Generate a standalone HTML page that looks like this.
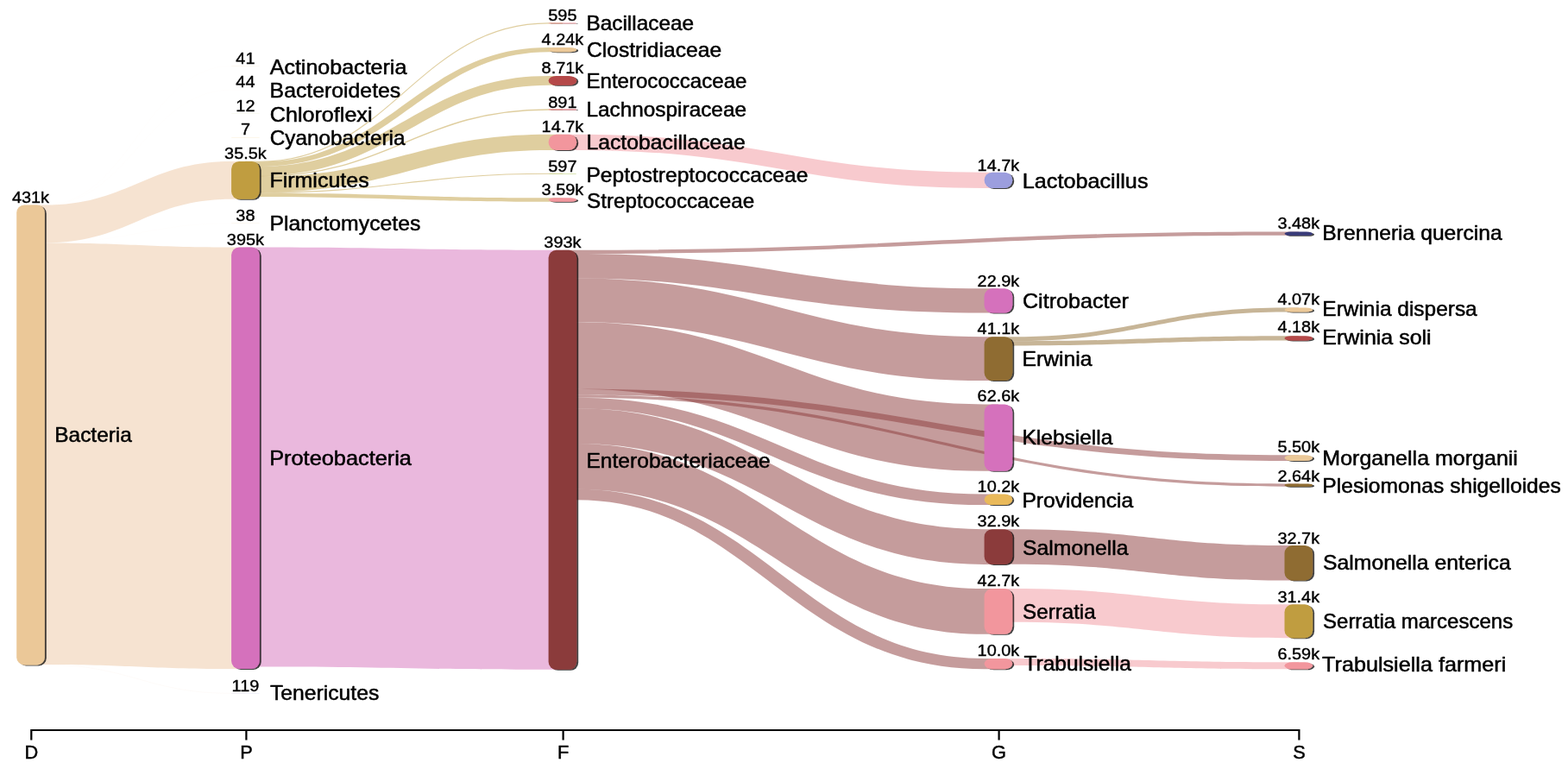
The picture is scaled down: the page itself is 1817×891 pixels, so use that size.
<!DOCTYPE html>
<html lang="en">
<head>
<meta charset="utf-8">
<title>Sankey</title>
<style>
html,body{margin:0;padding:0;background:#fff;}
body{width:1817px;height:891px;overflow:hidden;}
svg{display:block;}
.nm{font-family:"Liberation Sans",Arial,Helvetica,sans-serif;font-size:23.6px;fill:#000;stroke:#000;stroke-width:0.5px;stroke-linejoin:round;}
.vl{font-family:"Liberation Sans",Arial,Helvetica,sans-serif;font-size:19.1px;fill:#000;stroke:#000;stroke-width:0.4px;stroke-linejoin:round;text-anchor:middle;}
.ax{font-family:"Liberation Sans",Arial,Helvetica,sans-serif;font-size:21.8px;fill:#000;stroke:#000;stroke-width:0.45px;text-anchor:middle;}
.lk{fill:none;stroke-linecap:butt;}
</style>
</head>
<body>
<svg width="1817" height="891" viewBox="0 0 1817 891">
<defs>
<filter id="sh" x="-20%" y="-20%" width="150%" height="150%" filterUnits="objectBoundingBox">
<feGaussianBlur in="SourceAlpha" stdDeviation="0.55" result="b"/>
<feOffset in="b" dx="1.5" dy="1.0" result="o"/>
<feComponentTransfer in="o" result="s"><feFuncA type="linear" slope="0.74"/></feComponentTransfer>
<feMerge><feMergeNode in="s"/><feMergeNode in="SourceGraphic"/></feMerge>
</filter>
</defs>
<rect x="0" y="0" width="1817" height="891" fill="#ffffff"/>

<g class="links">
<path class="lk" d="M35.5,237.43 H51.8 C149.13,237.43 170.77,76.6 268.1,76.6 H284.4" stroke="#edc7a3" stroke-opacity="0.5" stroke-width="0.051"/>
<path class="lk" d="M35.5,237.48 H51.8 C149.13,237.48 170.77,104.2 268.1,104.2 H284.4" stroke="#edc7a3" stroke-opacity="0.5" stroke-width="0.054"/>
<path class="lk" d="M35.5,237.51 H51.8 C149.13,237.51 170.77,131.9 268.1,131.9 H284.4" stroke="#edc7a3" stroke-opacity="0.5" stroke-width="0.015"/>
<path class="lk" d="M35.5,237.52 H51.8 C149.13,237.52 170.77,159.6 268.1,159.6 H284.4" stroke="#edc7a3" stroke-opacity="0.5" stroke-width="0.009"/>
<path d="M35.5,237.53 H51.8 C149.13,237.53 170.77,186.9 268.1,186.9 H284.4 V230.8 H268.1 C170.77,230.8 149.13,281.43 51.8,281.43 H35.5 Z" fill="#edc7a3" fill-opacity="0.5"/>
<path class="lk" d="M35.5,281.45 H51.8 C149.13,281.45 170.77,258.9 268.1,258.9 H284.4" stroke="#edc7a3" stroke-opacity="0.5" stroke-width="0.047"/>
<path d="M35.5,281.48 H51.8 C149.13,281.48 170.77,286.5 268.1,286.5 H284.4 V775 H268.1 C170.77,775 149.13,769.97 51.8,769.97 H35.5 Z" fill="#edc7a3" fill-opacity="0.5"/>
<path class="lk" d="M35.5,770.05 H51.8 C149.13,770.05 170.77,803.4 268.1,803.4 H284.4" stroke="#edc7a3" stroke-opacity="0.5" stroke-width="0.147"/>
<path class="lk" d="M284.4,187.27 H300.7 C451.41,187.27 484.9,26.9 635.6,26.9 H651.9" stroke="#c09d40" stroke-opacity="0.5" stroke-width="1.086"/>
<path d="M284.4,187.64 H300.7 C451.41,187.64 484.9,55.1 635.6,55.1 H651.9 V60.34 H635.6 C491.9,60.34 458.41,192.88 300.7,192.88 H284.4 Z" fill="#c09d40" fill-opacity="0.5"/>
<path d="M284.4,192.88 H300.7 C451.41,192.88 484.9,88 635.6,88 H651.9 V98.77 H635.6 C489.9,98.77 456.41,203.65 300.7,203.65 H284.4 Z" fill="#c09d40" fill-opacity="0.5"/>
<path class="lk" d="M284.4,204.2 H300.7 C451.41,204.2 484.9,126.9 635.6,126.9 H651.9" stroke="#c09d40" stroke-opacity="0.5" stroke-width="1.452"/>
<path d="M284.4,204.75 H300.7 C451.41,204.75 484.9,155.7 635.6,155.7 H651.9 V173.88 H635.6 C490.9,173.88 457.41,222.93 300.7,222.93 H284.4 Z" fill="#c09d40" fill-opacity="0.5"/>
<path class="lk" d="M284.4,223.3 H300.7 C451.41,223.3 484.9,201.3 635.6,201.3 H651.9" stroke="#c09d40" stroke-opacity="0.5" stroke-width="1.088"/>
<path d="M284.4,223.67 H300.7 C451.41,223.67 484.9,229.3 635.6,229.3 H651.9 V233.74 H635.6 C476.9,233.74 443.41,228.11 300.7,228.11 H284.4 Z" fill="#c09d40" fill-opacity="0.5"/>
<path d="M284.4,286.5 H300.7 C451.41,286.5 484.9,289.8 635.6,289.8 H651.9 V775.82 H635.6 C484.9,775.82 451.41,772.52 300.7,772.52 H284.4 Z" fill="#d571bc" fill-opacity="0.5"/>
<path d="M651.9,155.7 H668.2 C880.78,155.7 928.02,199.7 1140.6,199.7 H1156.9 V217.88 H1140.6 C928.02,217.88 880.78,173.88 668.2,173.88 H651.9 Z" fill="#f2969d" fill-opacity="0.5"/>
<path d="M651.9,289.8 H668.2 C1037.34,289.8 1119.37,268.5 1488.5,268.5 H1504.8 V272.8 H1488.5 C1119.37,272.8 1037.34,294.1 668.2,294.1 H651.9 Z" fill="#8b3a3a" fill-opacity="0.5"/>
<path d="M651.9,294.1 H668.2 C880.78,294.1 928.02,334.3 1140.6,334.3 H1156.9 V362.62 H1140.6 C908.02,362.62 860.78,322.42 668.2,322.42 H651.9 Z" fill="#8b3a3a" fill-opacity="0.5"/>
<path d="M651.9,322.42 H668.2 C880.78,322.42 928.02,390.2 1140.6,390.2 H1156.9 V441.03 H1140.6 C928.02,441.03 880.78,373.25 668.2,373.25 H651.9 Z" fill="#8b3a3a" fill-opacity="0.5"/>
<path d="M651.9,373.25 H668.2 C880.78,373.25 928.02,468.4 1140.6,468.4 H1156.9 V545.82 H1140.6 C928.02,545.82 880.78,450.67 668.2,450.67 H651.9 Z" fill="#8b3a3a" fill-opacity="0.5"/>
<path d="M651.9,450.67 H668.2 C1037.34,450.67 1119.37,527.2 1488.5,527.2 H1504.8 V534 H1488.5 C1119.37,534 1037.34,457.47 668.2,457.47 H651.9 Z" fill="#8b3a3a" fill-opacity="0.5"/>
<path d="M651.9,457.47 H668.2 C1037.34,457.47 1119.37,560.4 1488.5,560.4 H1504.8 V563.66 H1488.5 C1119.37,563.66 1037.34,460.74 668.2,460.74 H651.9 Z" fill="#8b3a3a" fill-opacity="0.5"/>
<path d="M651.9,460.74 H668.2 C880.78,460.74 928.02,572.5 1140.6,572.5 H1156.9 V585.11 H1140.6 C917.02,585.11 869.78,473.35 668.2,473.35 H651.9 Z" fill="#8b3a3a" fill-opacity="0.5"/>
<path d="M651.9,473.35 H668.2 C880.78,473.35 928.02,613.2 1140.6,613.2 H1156.9 V653.89 H1140.6 C928.02,653.89 880.78,514.04 668.2,514.04 H651.9 Z" fill="#8b3a3a" fill-opacity="0.5"/>
<path d="M651.9,514.04 H668.2 C880.78,514.04 928.02,682 1140.6,682 H1156.9 V734.81 H1140.6 C928.02,734.81 880.78,566.85 668.2,566.85 H651.9 Z" fill="#8b3a3a" fill-opacity="0.5"/>
<path d="M651.9,566.85 H668.2 C880.78,566.85 928.02,762.9 1140.6,762.9 H1156.9 V775.27 H1140.6 C917.02,775.27 869.78,579.21 668.2,579.21 H651.9 Z" fill="#8b3a3a" fill-opacity="0.5"/>
<path d="M1156.9,390.2 H1173.2 C1315.08,390.2 1346.62,356.4 1488.5,356.4 H1504.8 V361.43 H1488.5 C1346.62,361.43 1315.08,395.23 1173.2,395.23 H1156.9 Z" fill="#8f6c30" fill-opacity="0.5"/>
<path d="M1156.9,395.23 H1173.2 C1315.08,395.23 1346.62,389.3 1488.5,389.3 H1504.8 V394.47 H1488.5 C1346.62,394.47 1315.08,400.4 1173.2,400.4 H1156.9 Z" fill="#8f6c30" fill-opacity="0.5"/>
<path d="M1156.9,613.2 H1173.2 C1315.08,613.2 1346.62,632 1488.5,632 H1504.8 V672.44 H1488.5 C1346.62,672.44 1315.08,653.64 1173.2,653.64 H1156.9 Z" fill="#8b3a3a" fill-opacity="0.5"/>
<path d="M1156.9,682 H1173.2 C1315.08,682 1346.62,700.3 1488.5,700.3 H1504.8 V739.13 H1488.5 C1346.62,739.13 1315.08,720.83 1173.2,720.83 H1156.9 Z" fill="#f2969d" fill-opacity="0.5"/>
<path d="M1156.9,762.9 H1173.2 C1315.08,762.9 1346.62,767.2 1488.5,767.2 H1504.8 V775.35 H1488.5 C1346.62,775.35 1315.08,771.05 1173.2,771.05 H1156.9 Z" fill="#f2969d" fill-opacity="0.5"/>
</g>
<g class="nodes">
<rect x="19.2" y="237.4" width="32.6" height="533.018" rx="9" ry="9" fill="#ebc898" filter="url(#sh)"/>
<rect x="268.1" y="76.54" width="32.6" height="0.12" rx="0.19" ry="0.06" fill="#ebc898" fill-opacity="0.5"/>
<rect x="268.1" y="104.14" width="32.6" height="0.12" rx="0.19" ry="0.06" fill="#9c9ede" fill-opacity="0.5"/>
<rect x="268.1" y="131.84" width="32.6" height="0.12" rx="0.19" ry="0.06" fill="#cedb9c" fill-opacity="0.5"/>
<rect x="268.1" y="159.54" width="32.6" height="0.12" rx="0.19" ry="0.06" fill="#e9b95a" fill-opacity="0.5"/>
<rect x="268.1" y="186.9" width="32.6" height="43.903" rx="9" ry="9" fill="#c09d40" filter="url(#sh)"/>
<rect x="268.1" y="258.84" width="32.6" height="0.12" rx="0.19" ry="0.06" fill="#ebc898" fill-opacity="0.5"/>
<rect x="268.1" y="286.5" width="32.6" height="488.496" rx="9" ry="9" fill="#d571bc" filter="url(#sh)"/>
<rect x="268.1" y="803.33" width="32.6" height="0.147" rx="0.24" ry="0.07" fill="#9c9ede" fill-opacity="0.5"/>
<rect x="635.6" y="26.53" width="32.6" height="0.736" rx="1.18" ry="0.37" fill="#f2969d" filter="url(#sh)"/>
<rect x="635.6" y="55.1" width="32.6" height="5.244" rx="8.39" ry="2.62" fill="#ebc898" filter="url(#sh)"/>
<rect x="635.6" y="88" width="32.6" height="10.772" rx="9" ry="5.39" fill="#b54848" filter="url(#sh)"/>
<rect x="635.6" y="126.35" width="32.6" height="1.102" rx="1.76" ry="0.55" fill="#f2969d" filter="url(#sh)"/>
<rect x="635.6" y="155.7" width="32.6" height="18.179" rx="9" ry="9" fill="#f2969d" filter="url(#sh)"/>
<rect x="635.6" y="200.93" width="32.6" height="0.738" rx="1.18" ry="0.37" fill="#cedb9c" filter="url(#sh)"/>
<rect x="635.6" y="229.3" width="32.6" height="4.44" rx="7.1" ry="2.22" fill="#f2969d" filter="url(#sh)"/>
<rect x="635.6" y="289.8" width="32.6" height="486.023" rx="9" ry="9" fill="#8b3a3a" filter="url(#sh)"/>
<rect x="1140.6" y="199.7" width="32.6" height="18.179" rx="9" ry="9" fill="#9c9ede" filter="url(#sh)"/>
<rect x="1140.6" y="334.3" width="32.6" height="28.32" rx="9" ry="9" fill="#d571bc" filter="url(#sh)"/>
<rect x="1140.6" y="390.2" width="32.6" height="50.828" rx="9" ry="9" fill="#8f6c30" filter="url(#sh)"/>
<rect x="1140.6" y="468.4" width="32.6" height="77.417" rx="9" ry="9" fill="#d571bc" filter="url(#sh)"/>
<rect x="1140.6" y="572.5" width="32.6" height="12.614" rx="9" ry="6.31" fill="#e9b95a" filter="url(#sh)"/>
<rect x="1140.6" y="613.2" width="32.6" height="40.687" rx="9" ry="9" fill="#8b3a3a" filter="url(#sh)"/>
<rect x="1140.6" y="682" width="32.6" height="52.807" rx="9" ry="9" fill="#f2969d" filter="url(#sh)"/>
<rect x="1140.6" y="762.9" width="32.6" height="12.367" rx="9" ry="6.18" fill="#f2969d" filter="url(#sh)"/>
<rect x="1488.5" y="268.5" width="32.6" height="4.304" rx="6.89" ry="2.15" fill="#393b79" filter="url(#sh)"/>
<rect x="1488.5" y="356.4" width="32.6" height="5.033" rx="8.05" ry="2.52" fill="#ebc898" filter="url(#sh)"/>
<rect x="1488.5" y="389.3" width="32.6" height="5.169" rx="8.27" ry="2.58" fill="#b54848" filter="url(#sh)"/>
<rect x="1488.5" y="527.2" width="32.6" height="6.802" rx="9" ry="3.4" fill="#ebc898" filter="url(#sh)"/>
<rect x="1488.5" y="560.4" width="32.6" height="3.265" rx="5.22" ry="1.63" fill="#8f6c30" filter="url(#sh)"/>
<rect x="1488.5" y="632" width="32.6" height="40.44" rx="9" ry="9" fill="#8f6c30" filter="url(#sh)"/>
<rect x="1488.5" y="700.3" width="32.6" height="38.832" rx="9" ry="9" fill="#c09d40" filter="url(#sh)"/>
<rect x="1488.5" y="767.2" width="32.6" height="8.15" rx="9" ry="4.07" fill="#f2969d" filter="url(#sh)"/>
</g>
<g class="labels">
<text class="nm" x="63.25" y="512.3" textLength="89.64" lengthAdjust="spacingAndGlyphs">Bacteria</text>
<text class="vl" x="35.5" y="234.9" textLength="43.08" lengthAdjust="spacingAndGlyphs">431k</text>
<text class="nm" x="312.7" y="85.8" textLength="158.65" lengthAdjust="spacingAndGlyphs">Actinobacteria</text>
<text class="vl" x="284.4" y="73.5" textLength="22.1" lengthAdjust="spacingAndGlyphs">41</text>
<text class="nm" x="312.62" y="113.3" textLength="151.65" lengthAdjust="spacingAndGlyphs">Bacteroidetes</text>
<text class="vl" x="284.4" y="100.7" textLength="22.1" lengthAdjust="spacingAndGlyphs">44</text>
<text class="nm" x="312.74" y="141.3" textLength="118.8" lengthAdjust="spacingAndGlyphs">Chloroflexi</text>
<text class="vl" x="284.4" y="128.5" textLength="22.1" lengthAdjust="spacingAndGlyphs">12</text>
<text class="nm" x="312.78" y="168" textLength="156.7" lengthAdjust="spacingAndGlyphs">Cyanobacteria</text>
<text class="vl" x="284.4" y="156.1" textLength="11.05" lengthAdjust="spacingAndGlyphs">7</text>
<text class="nm" x="312.4" y="217.1" textLength="115.31" lengthAdjust="spacingAndGlyphs">Firmicutes</text>
<text class="vl" x="284.4" y="184" textLength="48.59" lengthAdjust="spacingAndGlyphs">35.5k</text>
<text class="nm" x="312.42" y="266.9" textLength="175.02" lengthAdjust="spacingAndGlyphs">Planctomycetes</text>
<text class="vl" x="284.4" y="256.2" textLength="22.1" lengthAdjust="spacingAndGlyphs">38</text>
<text class="nm" x="312.17" y="539.4" textLength="164.81" lengthAdjust="spacingAndGlyphs">Proteobacteria</text>
<text class="vl" x="284.4" y="283.8" textLength="43.08" lengthAdjust="spacingAndGlyphs">395k</text>
<text class="nm" x="312.91" y="810.8" textLength="126.43" lengthAdjust="spacingAndGlyphs">Tenericutes</text>
<text class="vl" x="284.4" y="801.2" textLength="31.67" lengthAdjust="spacingAndGlyphs">119</text>
<text class="nm" x="679.45" y="35.1" textLength="124.63" lengthAdjust="spacingAndGlyphs">Bacillaceae</text>
<text class="vl" x="651.9" y="24.3" textLength="33.14" lengthAdjust="spacingAndGlyphs">595</text>
<text class="nm" x="679.97" y="65.9" textLength="156.18" lengthAdjust="spacingAndGlyphs">Clostridiaceae</text>
<text class="vl" x="651.9" y="52.3" textLength="48.59" lengthAdjust="spacingAndGlyphs">4.24k</text>
<text class="nm" x="679.47" y="102.3" textLength="185.96" lengthAdjust="spacingAndGlyphs">Enterococcaceae</text>
<text class="vl" x="651.9" y="85.3" textLength="48.59" lengthAdjust="spacingAndGlyphs">8.71k</text>
<text class="nm" x="679.45" y="135.3" textLength="185.59" lengthAdjust="spacingAndGlyphs">Lachnospiraceae</text>
<text class="vl" x="651.9" y="124.9" textLength="33.14" lengthAdjust="spacingAndGlyphs">891</text>
<text class="nm" x="679.42" y="173.4" textLength="184.49" lengthAdjust="spacingAndGlyphs">Lactobacillaceae</text>
<text class="vl" x="651.9" y="152.9" textLength="48.59" lengthAdjust="spacingAndGlyphs">14.7k</text>
<text class="nm" x="679.43" y="210.5" textLength="256.91" lengthAdjust="spacingAndGlyphs">Peptostreptococcaceae</text>
<text class="vl" x="651.9" y="198.9" textLength="33.14" lengthAdjust="spacingAndGlyphs">597</text>
<text class="nm" x="680.11" y="241.3" textLength="194.08" lengthAdjust="spacingAndGlyphs">Streptococcaceae</text>
<text class="vl" x="651.9" y="226.4" textLength="48.59" lengthAdjust="spacingAndGlyphs">3.59k</text>
<text class="nm" x="679.43" y="542.1" textLength="213.34" lengthAdjust="spacingAndGlyphs">Enterobacteriaceae</text>
<text class="vl" x="651.9" y="287" textLength="43.08" lengthAdjust="spacingAndGlyphs">393k</text>
<text class="nm" x="1184.78" y="217.5" textLength="145.73" lengthAdjust="spacingAndGlyphs">Lactobacillus</text>
<text class="vl" x="1156.9" y="197.8" textLength="48.59" lengthAdjust="spacingAndGlyphs">14.7k</text>
<text class="nm" x="1184.94" y="357.1" textLength="122.95" lengthAdjust="spacingAndGlyphs">Citrobacter</text>
<text class="vl" x="1156.9" y="332.4" textLength="48.59" lengthAdjust="spacingAndGlyphs">22.9k</text>
<text class="nm" x="1184.42" y="424.2" textLength="81.15" lengthAdjust="spacingAndGlyphs">Erwinia</text>
<text class="vl" x="1156.9" y="386.5" textLength="48.59" lengthAdjust="spacingAndGlyphs">41.1k</text>
<text class="nm" x="1184.44" y="515.1" textLength="104.97" lengthAdjust="spacingAndGlyphs">Klebsiella</text>
<text class="vl" x="1156.9" y="465.2" textLength="48.59" lengthAdjust="spacingAndGlyphs">62.6k</text>
<text class="nm" x="1184.43" y="587.8" textLength="128.78" lengthAdjust="spacingAndGlyphs">Providencia</text>
<text class="vl" x="1156.9" y="569.6" textLength="48.59" lengthAdjust="spacingAndGlyphs">10.2k</text>
<text class="nm" x="1185.09" y="642.6" textLength="122.48" lengthAdjust="spacingAndGlyphs">Salmonella</text>
<text class="vl" x="1156.9" y="610.2" textLength="48.59" lengthAdjust="spacingAndGlyphs">32.9k</text>
<text class="nm" x="1185.11" y="716.9" textLength="84.53" lengthAdjust="spacingAndGlyphs">Serratia</text>
<text class="vl" x="1156.9" y="678.6" textLength="48.59" lengthAdjust="spacingAndGlyphs">42.7k</text>
<text class="nm" x="1186.51" y="777" textLength="124.32" lengthAdjust="spacingAndGlyphs">Trabulsiella</text>
<text class="vl" x="1156.9" y="759.5" textLength="48.59" lengthAdjust="spacingAndGlyphs">10.0k</text>
<text class="nm" x="1532.33" y="278.2" textLength="208.48" lengthAdjust="spacingAndGlyphs">Brenneria quercina</text>
<text class="vl" x="1504.8" y="264.7" textLength="48.59" lengthAdjust="spacingAndGlyphs">3.48k</text>
<text class="nm" x="1532.34" y="366.3" textLength="179.4" lengthAdjust="spacingAndGlyphs">Erwinia dispersa</text>
<text class="vl" x="1504.8" y="353.1" textLength="48.59" lengthAdjust="spacingAndGlyphs">4.07k</text>
<text class="nm" x="1532.3" y="399.3" textLength="126.38" lengthAdjust="spacingAndGlyphs">Erwinia soli</text>
<text class="vl" x="1504.8" y="385.3" textLength="48.59" lengthAdjust="spacingAndGlyphs">4.18k</text>
<text class="nm" x="1532.3" y="538.5" textLength="226.64" lengthAdjust="spacingAndGlyphs">Morganella morganii</text>
<text class="vl" x="1504.8" y="524.2" textLength="48.59" lengthAdjust="spacingAndGlyphs">5.50k</text>
<text class="nm" x="1532.33" y="570.5" textLength="276.5" lengthAdjust="spacingAndGlyphs">Plesiomonas shigelloides</text>
<text class="vl" x="1504.8" y="558.3" textLength="48.59" lengthAdjust="spacingAndGlyphs">2.64k</text>
<text class="nm" x="1532.98" y="660.2" textLength="217.79" lengthAdjust="spacingAndGlyphs">Salmonella enterica</text>
<text class="vl" x="1504.8" y="629.7" textLength="48.59" lengthAdjust="spacingAndGlyphs">32.7k</text>
<text class="nm" x="1533.02" y="727.5" textLength="220.13" lengthAdjust="spacingAndGlyphs">Serratia marcescens</text>
<text class="vl" x="1504.8" y="698.1" textLength="48.59" lengthAdjust="spacingAndGlyphs">31.4k</text>
<text class="nm" x="1532.1" y="778.3" textLength="213.16" lengthAdjust="spacingAndGlyphs">Trabulsiella farmeri</text>
<text class="vl" x="1504.8" y="763.9" textLength="48.59" lengthAdjust="spacingAndGlyphs">6.59k</text>
</g>
<g class="axis">
<path d="M36.3,857.5 V846 H1505.4 V857.5" fill="none" stroke="#000" stroke-width="2.2"/>
<line x1="285.4" y1="846" x2="285.4" y2="857.5" stroke="#000" stroke-width="2.2"/>
<line x1="652.6" y1="846" x2="652.6" y2="857.5" stroke="#000" stroke-width="2.2"/>
<line x1="1157.6" y1="846" x2="1157.6" y2="857.5" stroke="#000" stroke-width="2.2"/>
<text class="ax" x="36.3" y="878.9">D</text>
<text class="ax" x="285.4" y="878.9">P</text>
<text class="ax" x="652.6" y="878.9">F</text>
<text class="ax" x="1157.6" y="878.9">G</text>
<text class="ax" x="1505.4" y="878.9">S</text>
</g>
</svg>
</body>
</html>
